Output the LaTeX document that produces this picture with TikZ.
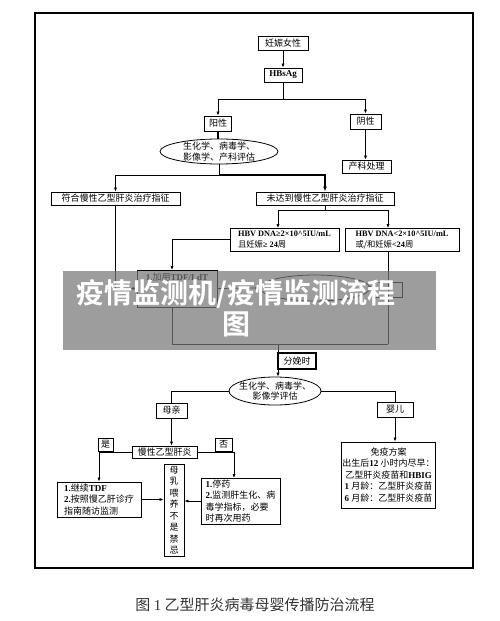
\documentclass[tikz,border=0pt]{standalone}
\usepackage{fontspec}
\setmainfont{Liberation Serif}
\newfontfamily\cjk{Noto Sans CJK SC}[BoldFont={Noto Sans CJK SC Bold}]
\usetikzlibrary{shapes.geometric, arrows.meta}
\newcommand{\en}[1]{{\rmfamily\bfseries #1}}

\begin{document}
\begin{tikzpicture}[x=1pt, y=-1pt,
  box/.style={draw, line width=0.9pt, inner sep=1pt, align=center,
    font=\cjk\fontsize{9}{11.5}\selectfont},
  oval/.style={ellipse, draw, line width=0.8pt, inner xsep=2pt, inner ysep=-1pt, align=center,
    font=\cjk\fontsize{9}{10.5}\selectfont},
  ln/.style={line width=0.7pt},
  arr/.style={ln, -{Latex[length=4pt,width=3.2pt]}},
  wm/.style={text=white, align=center, font=\cjk\bfseries\fontsize{28}{31}\selectfont}]
\useasboundingbox (0,0) rectangle (500,621);
\draw[line width=1.6pt] (35,13) rectangle (473,568);

% top part
\node[box, minimum width=50pt, minimum height=14pt] (preg) at (283,43) {妊娠女性};
\node[box, minimum width=38pt, minimum height=14pt] (hbsag) at (283,75) {\en{HBsAg}};
\node[box, minimum width=27pt, minimum height=15pt] (yang) at (218,123.5) {阳性};
\node[box, minimum width=31pt, minimum height=15pt] (yin) at (365.5,121.5) {阴性};
\node[oval, minimum width=118pt, minimum height=25pt] (evalA) at (219,151.5) {生化学、病毒学、\\影像学、产科评估};
\node[box, minimum width=49pt, minimum height=13pt] (obst) at (366.5,166.5) {产科处理};
\node[box, minimum width=129pt, minimum height=13pt] (fuhe) at (115.5,198.5) {符合慢性乙型肝炎治疗指征};
\node[box, minimum width=138pt, minimum height=13pt] (weida) at (325,198.5) {未达到慢性乙型肝炎治疗指征};
\node[box, minimum width=109pt, minimum height=23pt, align=left, font=\cjk\fontsize{8.3}{11}\selectfont] (hi) at (284.5,239.5)
  {\en{HBV DNA≥2×10\textasciicircum 5IU/mL}\\且妊娠\en{≥ 24}周};
\node[box, minimum width=114pt, minimum height=23pt, align=left, font=\cjk\fontsize{8.3}{11}\selectfont] (lo) at (402,239.5)
  {\en{HBV DNA<2×10\textasciicircum 5IU/mL}\\或/和妊娠\en{<24}周};

\coordinate (jA) at (283,99);
\coordinate (jB) at (219,175);
\coordinate (jC) at (325,210);
\coordinate (hiTop) at (278,228);
\coordinate (loTop) at (388,228);
\draw[arr] (preg) -- (hbsag);
\draw[ln] (hbsag) -- (jA);
\draw[arr] (jA) -| (yang.north);
\draw[arr] (jA) -| (yin.north);
\draw[line width=1.4pt] (yang.south) -- (yang.south |- evalA.north);
\draw[arr] (yin.south) -- (yin.south |- obst.north);
\draw[ln] (evalA) -- (jB);
\draw[arr] (jB) -| (fuhe.north);
\draw[line width=1.3pt, -{Latex[length=5pt,width=4pt]}] (jB) -| (weida.north);
\draw[ln] (weida) -- (jC);
\draw[arr] (jC) -| (hiTop);
\draw[arr] (jC) -| (loTop);

% middle part
\node[box, minimum width=80pt, minimum height=37pt, align=left, text depth=24pt] (tdf) at (177,288.5)
  {\en{1.}加用\en{TDF/LdT}};
\node[ellipse, draw, line width=0.8pt, minimum width=110pt, minimum height=26pt] (midE) at (315,288) {};
\node[box, minimum width=30pt, minimum height=15pt] (side) at (387,289.5) {};
\node[box, line width=1.3pt, minimum width=38pt, minimum height=16pt] (birth) at (297,361) {分娩时};
\coordinate (tdfIn) at (172,270);
\coordinate (jD) at (172,344);
\coordinate (jE) at (388,344);
\coordinate (jF) at (278,344);
\draw[arr] (hi.west) -| (tdfIn);
\draw[arr] (fuhe.south) |- (tdf.west);
\draw[arr] (tdf.east) -- (midE.west);
\draw[arr] (midE.east) -- (side.west);
\draw[ln] (tdf.south -| jD) -- (jD) -- (jE);
\draw[ln] (lo.south -| jE) -- (jE);

% lower part
\node[oval, inner xsep=-4pt, minimum width=92pt, minimum height=28pt] (evalB) at (275,391) {生化学、病毒学、\\影像学评估};
\node[box, minimum width=31pt, minimum height=15pt] (mq) at (171.5,410.5) {母亲};
\node[box, minimum width=36pt, minimum height=15pt] (ye) at (395,409.5) {婴儿};
\node[box, minimum width=65pt, minimum height=12pt] (cb) at (164.5,452) {慢性乙型肝炎};
\node[box, minimum width=15pt, minimum height=13pt] (shi) at (105.5,444.5) {是};
\node[box, minimum width=17pt, minimum height=13pt] (fou) at (223.5,444.5) {否};
\node[box, minimum width=84pt, minimum height=35pt, align=left] (lb) at (99,499.5)
  {\en{1.}继续\en{TDF}\\\en{2.}按照慢乙肝诊疗\\指南随访监测};
\node[box, minimum width=79pt, minimum height=46pt, align=left] (rb) at (240.5,501)
  {\en{1.}停药\\\en{2.}监测肝生化、病\\毒学指标，必要\\时再次用药};
\node[box, minimum width=20pt, minimum height=92pt] (bf) at (174,510)
  {母\\乳\\喂\\养\\不\\是\\禁\\忌};
\node[box, minimum width=93pt, minimum height=66pt] (imm) at (388.5,475)
  {免疫方案\\出生后\en{12} 小时内尽早：\\乙型肝炎疫苗和\en{HBIG}\\\en{1} 月龄：乙型肝炎疫苗\\\en{6} 月龄：乙型肝炎疫苗};
\coordinate (rbIn) at (234,478);
\draw[arr] (jF) -- (evalB.north -| jF);
\draw[ln] (evalB.west) -| (mq.north);
\draw[ln] (evalB.east) -| (ye.north);
\draw[arr] (mq.south) -- (mq.south |- cb.north);
\draw[arr] (ye.south) -- (ye.south |- imm.north);
\draw[arr] (cb.west) -| (lb.north);
\draw[arr] (cb.east) -| (rbIn);
\draw[arr] (lb.east) -- (lb.east -| bf.west);
\draw[arr] (rb.west) -- (rb.west -| bf.east);

% watermark band
\fill[black!54, opacity=0.71] (63,271) rectangle (436,350);
\node[wm] (mark) at (236,308) {疫情监测机/疫情监测流程\\图};

\node[font=\cjk\fontsize{15}{18}\selectfont, text=black!80] (cap) at (255,605)
  {图 {\rmfamily 1} 乙型肝炎病毒母婴传播防治流程};
\end{tikzpicture}
\end{document}
